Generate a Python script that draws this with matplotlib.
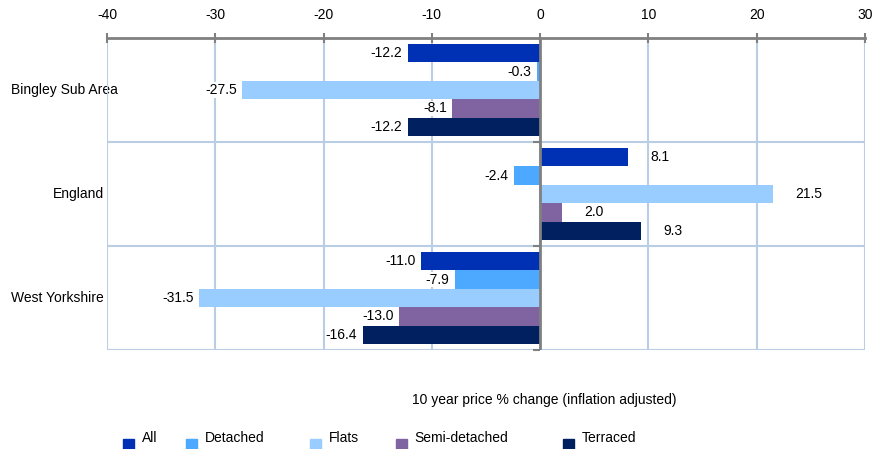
import matplotlib.pyplot as plt
import matplotlib.transforms as mtransforms
from matplotlib.patches import Rectangle
import numpy as np

plt.rcParams['font.family'] = ['Liberation Sans', 'DejaVu Sans']
plt.rcParams['axes.unicode_minus'] = False

areas = ['Bingley Sub Area', 'England', 'West Yorkshire']
types = ['All', 'Detached', 'Flats', 'Semi-detached', 'Terraced']
all_vals = [-12.2, 8.1, -11.0]
detached = [-0.3, -2.4, -7.9]
flats = [-27.5, 21.5, -31.5]
semi = [-8.1, 2.0, -13.0]
terraced = [-12.2, 9.3, -16.4]
series = [all_vals, detached, flats, semi, terraced]
colors = ['#0030B4', '#4DA8FF', '#99CCFF', '#8064A2', '#00205F']

fig = plt.figure(figsize=(8.74, 4.49), dpi=100)
W, H = 874, 449
ax = fig.add_axes([107 / W, 1 - 350 / H, (865 - 107) / W, (350 - 38) / H])

grid_c = '#B9CDE5'
axis_c = '#808080'
ypos = np.arange(len(areas))
h = 0.177

for i, (vals, c) in enumerate(zip(series, colors)):
    y = ypos + (i - 2) * h
    ax.barh(y, vals, height=h, color=c, zorder=3)
    for yy, v in zip(y, vals):
        if v < 0:
            ax.annotate(f'{v:.1f}', (v, yy), xytext=(-4, 0), textcoords='offset points',
                        ha='right', va='center', fontsize=10, zorder=4,
                        bbox=dict(facecolor='white', edgecolor='none', pad=0.5))
        else:
            ax.annotate(f'{v:.1f}', (v, yy), xytext=(16, 0), textcoords='offset points',
                        ha='left', va='center', fontsize=10, zorder=4,
                        bbox=dict(facecolor='white', edgecolor='none', pad=0.5))

ax.set_xlim(-40, 30)
ax.set_ylim(2.5, -0.5)
ax.set_xticks(np.arange(-40, 31, 10))
ax.xaxis.tick_top()
ax.tick_params(axis='x', direction='inout', length=7, width=1.5, color=axis_c,
               labelsize=10, pad=8)
ax.set_yticks([])

for x in np.arange(-40, 31, 10):
    ax.axvline(x, color=grid_c, lw=1.5, zorder=1)
for yb in [0.5, 1.5, 2.5]:
    ax.axhline(yb, color=grid_c, lw=1.5, zorder=1)

for s in ['left', 'right', 'bottom']:
    ax.spines[s].set_visible(False)
ax.spines['top'].set_color(axis_c)
ax.spines['top'].set_linewidth(2)

ax.axvline(0, color=axis_c, lw=2, zorder=5)
ax.plot([0] * 3, [0.5, 1.5, 2.5], linestyle='none', marker=0, markersize=5,
        markeredgewidth=1.5, color=axis_c, zorder=5, clip_on=False)

trans = mtransforms.blended_transform_factory(fig.transFigure, ax.transData)
ax.text(11 / W, 0, areas[0], transform=trans, ha='left', va='center', fontsize=10, zorder=0.5)
ax.text(104 / W, 1, areas[1], transform=trans, ha='right', va='center', fontsize=10)
ax.text(11 / W, 2, areas[2], transform=trans, ha='left', va='center', fontsize=10)

fig.text(544 / W, 1 - 400 / H, '10 year price % change (inflation adjusted)',
         ha='center', va='center', fontsize=10)

leg_x = [123, 186, 310, 396, 563]
txt_x = [142, 205, 329, 414, 582]
for lx, tx, name, c in zip(leg_x, txt_x, types, colors):
    fig.patches.append(Rectangle((lx / W, 1 - 449 / H), 11 / W, 10 / H,
                                 transform=fig.transFigure, color=c))
    fig.text(tx / W, 1 - 438 / H, name, ha='left', va='center', fontsize=10)

fig.savefig('out.png', dpi=100)
